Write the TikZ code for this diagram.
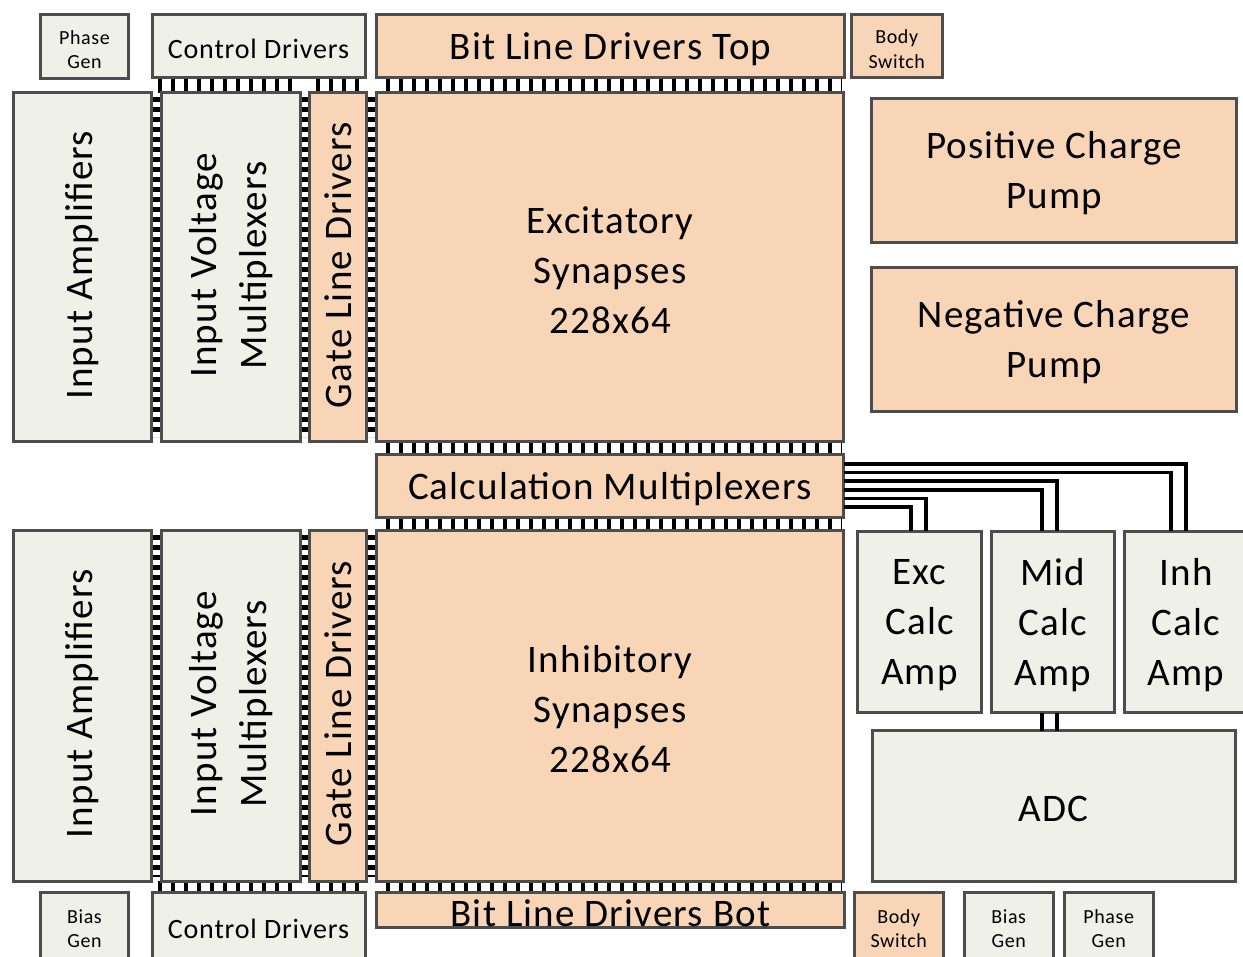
\documentclass[tikz,border=0pt]{standalone}
\usepackage{fontspec}
\setmainfont{Carlito}[LetterSpace=3]
\definecolor{peach}{HTML}{F8D5B7}
\definecolor{grayg}{HTML}{EFF1E8}
\definecolor{bordc}{HTML}{4D4D4D}
\begin{document}
\begin{tikzpicture}[x=1pt,y=-1pt,
  box/.style={draw=bordc, line width=3pt, inner sep=0pt, outer sep=0pt, align=center, text=black},
  pe/.style={box, fill=peach},
  gr/.style={box, fill=grayg},
  big/.style={font=\fontsize{39}{50}\selectfont},
  midf/.style={font=\fontsize{28}{32}\selectfont},
  small/.style={font=\fontsize{20}{24.5}\selectfont},
  txt/.style={text=black, inner sep=0pt, align=center},
  hlad/.style={line width=#1, dash pattern=on 4pt off 9pt, black},
  vlad/.style={line width=#1, dash pattern=on 5pt off 5pt, black},
  wire/.style={line width=3.5pt, black, line join=miter}
]
\useasboundingbox (0,0) rectangle (1243,957);
% ladders (drawn first, covered by box edges)
\foreach \y/\w in {85.5/15, 886.75/11.5}{
  \draw[hlad=\w pt] (158,\y) -- (298,\y);
  \draw[hlad=\w pt] (316,\y) -- (362,\y);
  \draw[hlad=\w pt] (386,\y) -- (842,\y);
}
\draw[hlad=13pt] (386,448) -- (842,448);
\draw[hlad=13pt] (386,524) -- (842,524);
\foreach \x/\w in {156.5/10, 304.75/9.5, 371.5/10}{
  \draw[vlad=\w pt] (\x,97) -- (\x,437);
  \draw[vlad=\w pt] (\x,535) -- (\x,877);
}
% top row
\node[gr, minimum width=88pt, minimum height=64pt] (pg1) at (84.5,46.5) {};
\node[gr, minimum width=213pt, minimum height=63.5pt] (cd1) at (258.5,46.25) {};
\node[pe, minimum width=468pt, minimum height=63.5pt] (blt) at (610.5,46.25) {};
\node[pe, minimum width=90.5pt, minimum height=63.5pt] (bs1) at (896.75,46.25) {};
% upper array
\node[gr, minimum width=138.5pt, minimum height=348.5pt] (ia1) at (82.25,267.25) {};
\node[gr, minimum width=138.5pt, minimum height=348.5pt] (ivm1) at (230.75,267.25) {};
\node[pe, minimum width=57pt, minimum height=348.5pt] (gld1) at (338,267.25) {};
\node[pe, minimum width=467pt, minimum height=348.5pt] (exc) at (610,267.25) {};
% charge pumps
\node[pe, minimum width=365pt, minimum height=144pt] (pcp) at (1054,170.5) {};
\node[pe, minimum width=365pt, minimum height=144pt] (ncp) at (1054,339.5) {};
% calc mux
\node[pe, minimum width=467pt, minimum height=63pt] (cm) at (610,486) {};
% lower array
\node[gr, minimum width=138.5pt, minimum height=350.5pt] (ia2) at (82.25,705.75) {};
\node[gr, minimum width=138.5pt, minimum height=350.5pt] (ivm2) at (230.75,705.75) {};
\node[pe, minimum width=57pt, minimum height=350.5pt] (gld2) at (338,705.75) {};
\node[pe, minimum width=467pt, minimum height=350.5pt] (inh) at (610,705.75) {};
% calc amps and ADC
\node[gr, minimum width=124pt, minimum height=181.5pt] (ea) at (919.5,621.75) {};
\node[gr, minimum width=123.5pt, minimum height=181.5pt] (ma) at (1052.75,621.75) {};
\node[gr, minimum width=124pt, minimum height=181.5pt] (iha) at (1186,621.75) {};
\node[gr, minimum width=363pt, minimum height=150.5pt] (adc) at (1053.5,805.75) {};
% bottom row
\node[gr, minimum width=88pt, minimum height=66.5pt] (bg1) at (84.5,925.75) {};
\node[gr, minimum width=213pt, minimum height=66.5pt] (cd2) at (258.5,925.75) {};
\node[pe, minimum width=468pt, minimum height=35pt] (blb) at (610.5,910) {};
\node[pe, minimum width=89.5pt, minimum height=66.5pt] (bs2) at (898.75,925.75) {};
\node[gr, minimum width=89.5pt, minimum height=66.5pt] (bg2) at (1008.75,925.75) {};
\node[gr, minimum width=89.5pt, minimum height=66.5pt] (pg2) at (1108.75,925.75) {};
% labels
\begin{scope}[every node/.append style={txt, yshift=-3pt}]
\node[small] (pg1t) at (pg1.center) {Phase\\Gen};
\node[midf] (cd1t) at (cd1.center) {Control Drivers};
\node[big] (bltt) at (blt.center) {Bit Line Drivers Top};
\node[small] (bs1t) at (bs1.center) {Body\\Switch};
\node[big] (exct) at (exc.center) {Excitatory\\Synapses\\228x64};
\node[big] (pcpt) at (pcp.center) {Positive Charge\\Pump};
\node[big] (ncpt) at (ncp.center) {Negative Charge\\Pump};
\node[big] (cmt) at (cm.center) {Calculation Multiplexers};
\node[big] (inht) at (inh.center) {Inhibitory\\Synapses\\228x64};
\node[big] (eat) at (ea.center) {Exc\\Calc\\Amp};
\node[big] (mat) at (ma.center) {Mid\\Calc\\Amp};
\node[big] (ihat) at (iha.center) {Inh\\Calc\\Amp};
\node[big] (adct) at (adc.center) {ADC};
\node[small] (bg1t) at (bg1.center) {Bias\\Gen};
\node[midf] (cd2t) at (cd2.center) {Control Drivers};
\node[big] (blbt) at (blb.center) {Bit Line Drivers Bot};
\node[small] (bs2t) at (bs2.center) {Body\\Switch};
\node[small] (bg2t) at (bg2.center) {Bias\\Gen};
\node[small] (pg2t) at (pg2.center) {Phase\\Gen};
\end{scope}
\begin{scope}[every node/.append style={txt, big, rotate=90, xshift=2pt}]
\node (ia1t) at (ia1.center) {Input Amplifiers};
\node (ivm1t) at (ivm1.center) {Input Voltage\\Multiplexers};
\node (gld1t) at (gld1.center) {Gate Line Drivers};
\node (ia2t) at (ia2.center) {Input Amplifiers};
\node (ivm2t) at (ivm2.center) {Input Voltage\\Multiplexers};
\node (gld2t) at (gld2.center) {Gate Line Drivers};
\end{scope}
% wires from calculation multiplexers to amplifiers
\draw[wire] (cm.east |- {(0,464)}) -| (iha.north -| {(1186,0)});
\draw[wire] (cm.east |- {(0,472.6)}) -| (iha.north -| {(1171,0)});
\draw[wire] (cm.east |- {(0,481.2)}) -| (ma.north -| {(1057,0)});
\draw[wire] (cm.east |- {(0,489.8)}) -| (ma.north -| {(1042,0)});
\draw[wire] (cm.east |- {(0,498.4)}) -| (ea.north -| {(926,0)});
\draw[wire] (cm.east |- {(0,507)}) -| (ea.north -| {(911,0)});
% mid amp to ADC
\draw[wire] (ma.south -| {(1042,0)}) -- (adc.north -| {(1042,0)});
\draw[wire] (ma.south -| {(1057,0)}) -- (adc.north -| {(1057,0)});
\end{tikzpicture}
\end{document}
